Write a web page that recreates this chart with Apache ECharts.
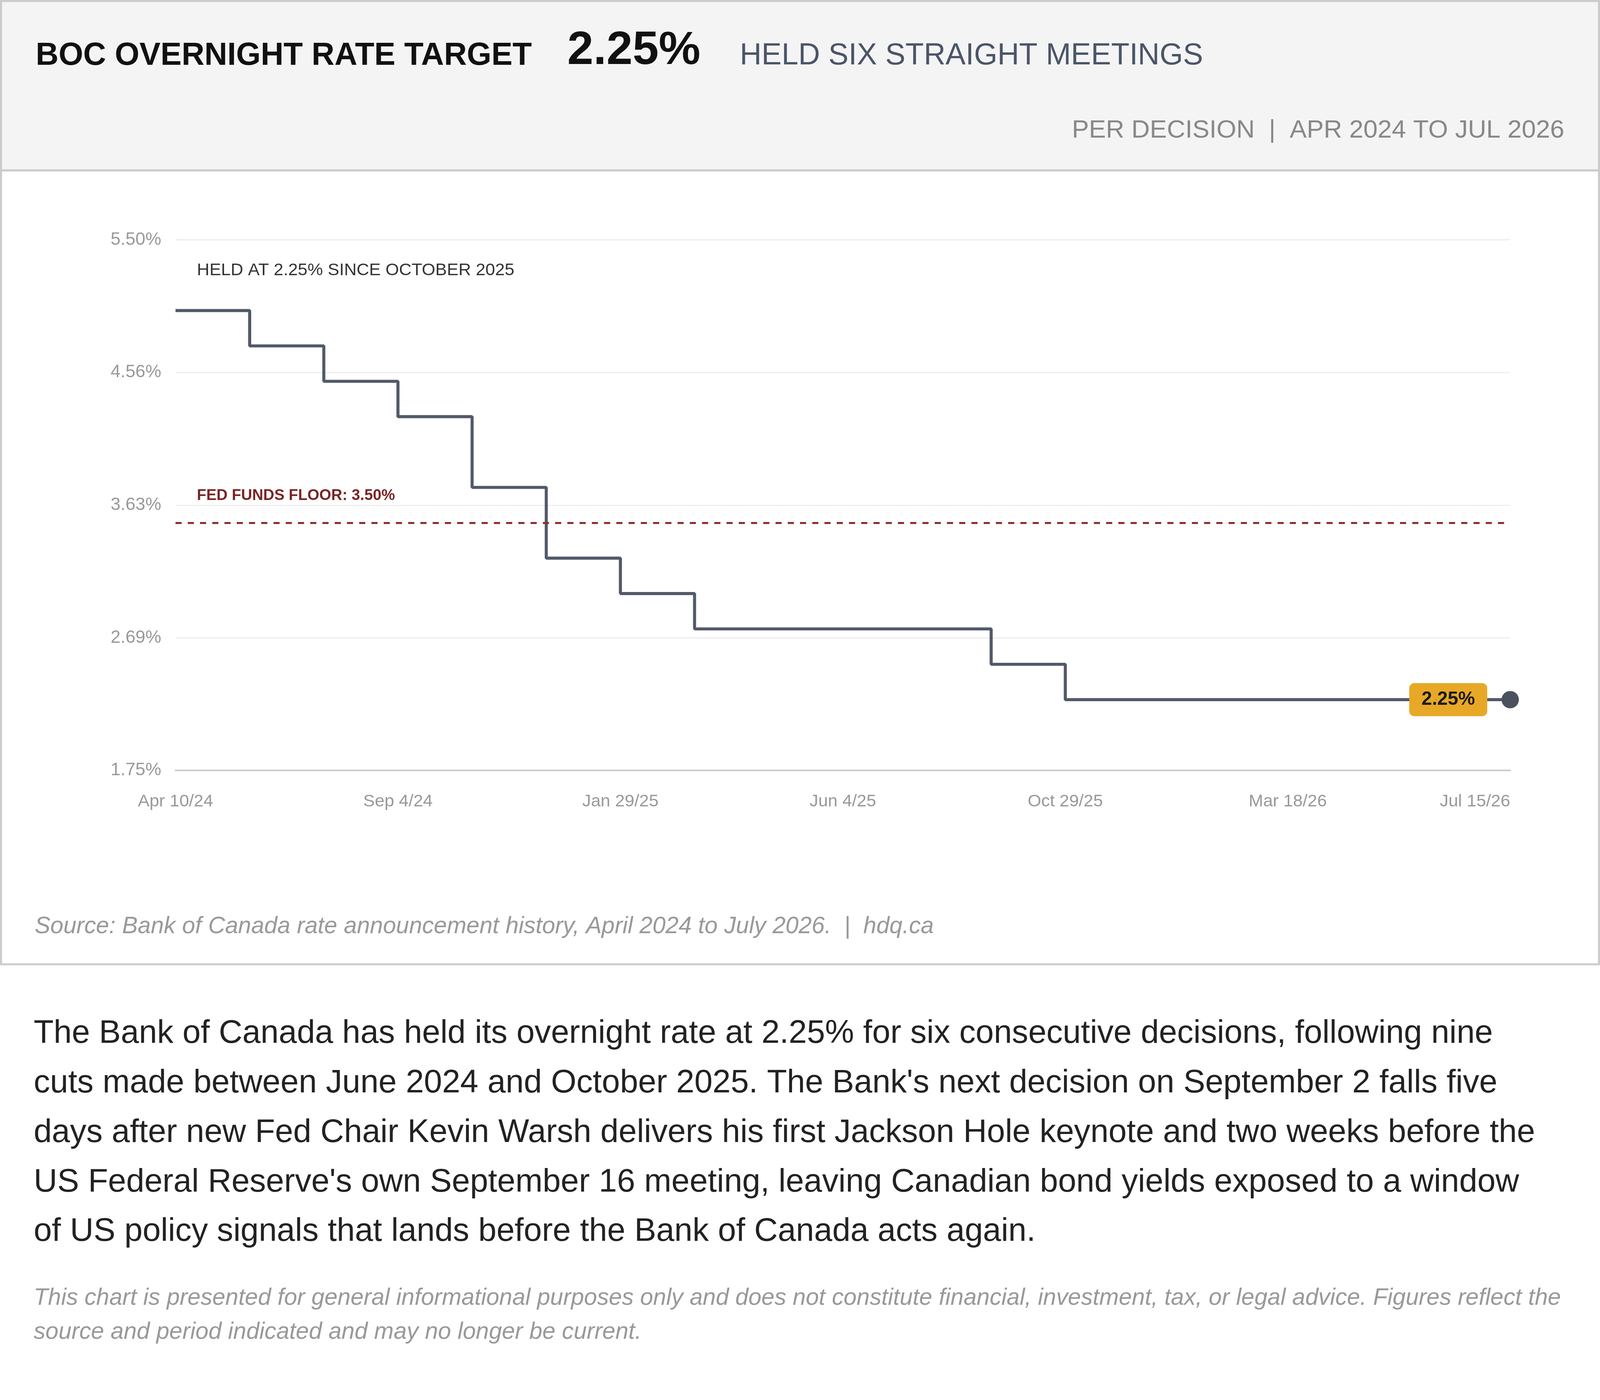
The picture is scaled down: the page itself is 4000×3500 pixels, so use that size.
<!DOCTYPE html>
<html><head><meta charset="utf-8">
<script src="https://cdn.jsdelivr.net/npm/echarts@6/dist/echarts.min.js"></script>
<style>html,body{margin:0;padding:0;background:#fff}#c{width:4000px;height:3500px}</style>
</head><body><div id="c"></div>
<script>
const decisionDates = ['Apr 10/24','Jun 5/24','Jul 24/24','Sep 4/24','Oct 23/24','Dec 11/24','Jan 29/25','Mar 12/25','Apr 16/25','Jun 4/25','Jul 30/25','Sep 17/25','Oct 29/25','Dec 10/25','Jan 28/26','Mar 18/26','Apr 29/26','Jun 10/26','Jul 15/26'];
const overnightRate = [5.00,4.75,4.50,4.25,3.75,3.25,3.00,2.75,2.75,2.75,2.75,2.50,2.25,2.25,2.25,2.25,2.25,2.25,2.25];
const fedFloor = 3.50;
const yMin = 1.75, yMax = 5.50, yStep = 0.9375;

const s = 4000/1568;
const F = 'Liberation Sans, Arial, sans-serif';
function txt(x,y,t,size,opt){opt=opt||{};return {type:'text',x:x*s,y:y*s,silent:true,style:{text:t,font:(opt.style||'')+' '+(opt.weight||'normal')+' '+(size*s)+'px '+F,fill:opt.color||'#222',align:opt.align||'left',verticalAlign:opt.va||'middle',lineHeight:(opt.lh||size)*s},z:10};}

const last = overnightRate.length-1;
const seriesData = overnightRate.map((v,i)=> i===last ? {value:v,symbolSize:17*s,label:{show:true}} : {value:v,symbolSize:0});

const chart = echarts.init(document.getElementById('c'));
chart.setOption({
  animation:false,
  grid:{left:172*s,right:88*s,top:235*s,bottom:(3500/s-755)*s},
  xAxis:{type:'category',data:decisionDates,boundaryGap:false,
    axisLine:{lineStyle:{color:'#ccc',width:1.5*s}},axisTick:{show:false},
    axisLabel:{interval:2,color:'#999',fontSize:17*s,fontFamily:F,margin:22*s,alignMaxLabel:'right'},splitLine:{show:false}},
  yAxis:{type:'value',min:yMin,max:yMax,interval:yStep,
    axisLine:{show:false},axisTick:{show:false},
    axisLabel:{formatter:v=>v.toFixed(2)+'%',color:'#999',fontSize:17.5*s,fontFamily:F,margin:14*s},
    splitLine:{lineStyle:{color:'#eee',width:1.2*s}}},
  series:[{type:'line',step:'end',data:seriesData,
    lineStyle:{color:'#4a5260',width:3*s},
    symbol:'circle',showSymbol:true,
    itemStyle:{color:'#4a5260'},
    label:{show:false,formatter:p=>p.value.toFixed(2)+'%',position:'left',distance:14*s,
      backgroundColor:'#e8a827',borderRadius:5*s,padding:[8*s,12*s,6*s,12*s],color:'#1a1a1a',fontWeight:'bold',fontSize:18.5*s,fontFamily:F},
    markLine:{silent:true,symbol:'none',data:[{yAxis:fedFloor}],
      lineStyle:{color:'#8b2e2e',type:[6*s,6*s],width:2*s},label:{show:false}}
  }],
  graphic:[
    {type:'rect',shape:{x:1*s,y:1*s,width:1566*s,height:166*s},style:{fill:'#f4f4f4',stroke:'#ccc',lineWidth:2*s},z:-10},
    {type:'rect',shape:{x:1*s,y:167*s,width:1566*s,height:778*s},style:{fill:'none',stroke:'#ccc',lineWidth:2*s},z:-10},
    txt(35,55,'BOC OVERNIGHT RATE TARGET',31,{weight:'bold',color:'#111'}),
    txt(556,50,'2.25%',46,{weight:'bold',color:'#111'}),
    txt(725,55,'HELD SIX STRAIGHT MEETINGS',29.5,{color:'#4a5568'}),
    txt(1533,128,'PER DECISION  |  APR 2024 TO JUL 2026',25,{color:'#888',align:'right'}),
    txt(193,265,'HELD AT 2.25% SINCE OCTOBER 2025',17,{color:'#333'}),
    txt(193,486,'FED FUNDS FLOOR: 3.50%',15,{color:'#7a2424',weight:'bold'}),
    txt(34,908,'Source: Bank of Canada rate announcement history, April 2024 to July 2026.  |  hdq.ca',23,{style:'italic',color:'#999'}),
    txt(33,989,"The Bank of Canada has held its overnight rate at 2.25% for six consecutive decisions, following nine\ncuts made between June 2024 and October 2025. The Bank's next decision on September 2 falls five\ndays after new Fed Chair Kevin Warsh delivers his first Jackson Hole keynote and two weeks before the\nUS Federal Reserve's own September 16 meeting, leaving Canadian bond yields exposed to a window\nof US policy signals that lands before the Bank of Canada acts again.",32,{color:'#222',lh:48.5,va:'top'}),
    txt(33,1256,"This chart is presented for general informational purposes only and does not constitute financial, investment, tax, or legal advice. Figures reflect the\nsource and period indicated and may no longer be current.",23,{style:'italic',color:'#999',lh:33,va:'top'})
  ]
});
</script></body></html>
